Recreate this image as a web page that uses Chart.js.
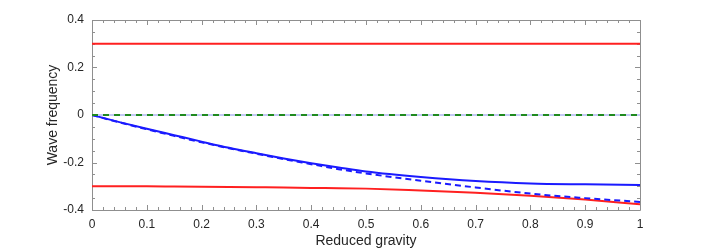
<!DOCTYPE html>
<html lang="en">
<head>
    <meta charset="UTF-8">
    <title>Wave frequency vs reduced gravity</title>
    <script src="https://cdn.jsdelivr.net/npm/chart.js"></script>
    <style>
        html, body { margin: 0; padding: 0; background: #fff; }
        #wrap { width: 708px; height: 250px; }
    </style>
</head>
<body>
    <div id="wrap">
        <canvas id="myChart"></canvas>
    </div>

    <script>
        // values
        var gravity = [0, 0.05, 0.1, 0.15, 0.2, 0.25, 0.3, 0.35, 0.4, 0.45, 0.5, 0.6, 0.7, 0.8, 0.9, 1];
        var blueSolid = [0, -0.030, -0.058, -0.085, -0.112, -0.138, -0.161, -0.183, -0.203, -0.221, -0.238, -0.261, -0.278, -0.288, -0.292, -0.295];
        var blueDashed = [0, -0.031, -0.060, -0.088, -0.115, -0.140, -0.163, -0.186, -0.207, -0.228, -0.246, -0.277, -0.305, -0.331, -0.350, -0.366];
        var redLower = [-0.300, -0.300, -0.300, -0.301, -0.302, -0.303, -0.304, -0.305, -0.307, -0.308, -0.310, -0.318, -0.327, -0.340, -0.356, -0.376];

        var edgeGravity = [0, 1];
        var redUpper = [0.3, 0.3];
        var zeroBranch = [0, 0];

        var xTicks = [0, 0.1, 0.2, 0.3, 0.4, 0.5, 0.6, 0.7, 0.8, 0.9, 1];
        var yTicks = [-0.4, -0.2, 0, 0.2, 0.4];

        function pts(xs, ys) {
            return xs.map(function (x, i) { return {x: x, y: ys[i]}; });
        }

        var axisColor = '#8f8f8f';
        var textColor = '#262626';

        // box round the plot and inward ticks on all four sides
        var frameTicks = {
            id: 'frameTicks',
            beforeDatasetsDraw: function (chart) {
                var ctx = chart.ctx, a = chart.chartArea;
                var xs = chart.scales.x, ys = chart.scales.y;
                ctx.save();
                ctx.strokeStyle = axisColor;
                ctx.lineWidth = 1;
                ctx.beginPath();
                ctx.rect(Math.round(a.left) + 0.5, Math.round(a.top) + 0.5,
                         Math.round(a.right - a.left), Math.round(a.bottom - a.top));
                var i, p, len;
                for (i = 0; i <= 50; i++) {
                    p = Math.round(xs.getPixelForValue(i / 50)) + 0.5;
                    len = (i % 5 === 0) ? 5 : 3;
                    ctx.moveTo(p, a.bottom); ctx.lineTo(p, a.bottom - len);
                    ctx.moveTo(p, a.top); ctx.lineTo(p, a.top + len);
                }
                for (i = 0; i <= 16; i++) {
                    p = Math.round(ys.getPixelForValue(-0.4 + i * 0.05)) + 0.5;
                    len = (i % 4 === 0) ? 5 : 3;
                    ctx.moveTo(a.left, p); ctx.lineTo(a.left + len, p);
                    ctx.moveTo(a.right, p); ctx.lineTo(a.right - len, p);
                }
                ctx.stroke();
                ctx.restore();
            }
        };

        // first dataset ends up on top
        var ctx = document.getElementById('myChart').getContext('2d');
        var myChart = new Chart(ctx, {
            type: 'scatter',
            data: {
                datasets: [{
                    data: pts(edgeGravity, zeroBranch),
                    borderColor: '#1f8a1f',
                    borderWidth: 2,
                    borderDash: [6, 5]
                }, {
                    data: pts(edgeGravity, zeroBranch),
                    borderColor: '#c4c9f5',
                    borderWidth: 2
                }, {
                    data: pts(gravity, blueSolid),
                    borderColor: '#1a1aff',
                    borderWidth: 2
                }, {
                    data: pts(gravity, blueDashed),
                    borderColor: '#1a1aff',
                    borderWidth: 2,
                    borderDash: [6, 4]
                }, {
                    data: pts(gravity, redLower),
                    borderColor: '#ff2020',
                    borderWidth: 2
                }, {
                    data: pts(edgeGravity, redUpper),
                    borderColor: '#ff2020',
                    borderWidth: 2
                }]
            },
            options: {
                responsive: true,
                maintainAspectRatio: false,
                animation: false,
                showLine: true,
                elements: {
                    point: { radius: 0, hoverRadius: 0 },
                    line: { cubicInterpolationMode: 'monotone', fill: false }
                },
                layout: { padding: { left: 0, right: 68, top: 20, bottom: 0 } },
                plugins: {
                    legend: { display: false },
                    tooltip: { enabled: false }
                },
                scales: {
                    x: {
                        type: 'linear',
                        min: 0,
                        max: 1,
                        afterFit: function (s) { s.height = 40; },
                        afterBuildTicks: function (s) { s.ticks = xTicks.map(function (v) { return {value: v}; }); },
                        grid: { display: false, drawTicks: false },
                        border: { display: false },
                        ticks: {
                            padding: 7,
                            color: textColor,
                            font: { family: 'Liberation Sans, Arial, sans-serif', size: 12 },
                            maxRotation: 0,
                            callback: function (v) { return String(Number(v.toFixed(1))); }
                        },
                        title: {
                            display: true,
                            text: 'Reduced gravity',
                            color: textColor,
                            font: { family: 'Liberation Sans, Arial, sans-serif', size: 14 },
                            padding: { top: 0, bottom: 0 }
                        }
                    },
                    y: {
                        min: -0.4,
                        max: 0.4,
                        afterFit: function (s) { s.width = 92; },
                        afterBuildTicks: function (s) { s.ticks = yTicks.map(function (v) { return {value: v}; }); },
                        grid: { display: false, drawTicks: false },
                        border: { display: false },
                        ticks: {
                            padding: 8,
                            color: textColor,
                            font: { family: 'Liberation Sans, Arial, sans-serif', size: 12 },
                            callback: function (v) { return String(Number(v.toFixed(1))); }
                        },
                        title: {
                            display: true,
                            text: 'Wave frequency',
                            color: textColor,
                            font: { family: 'Liberation Sans, Arial, sans-serif', size: 14 },
                            padding: { top: 45, bottom: 0 }
                        }
                    }
                }
            },
            plugins: [frameTicks]
        });
    </script>
</body>
</html>
